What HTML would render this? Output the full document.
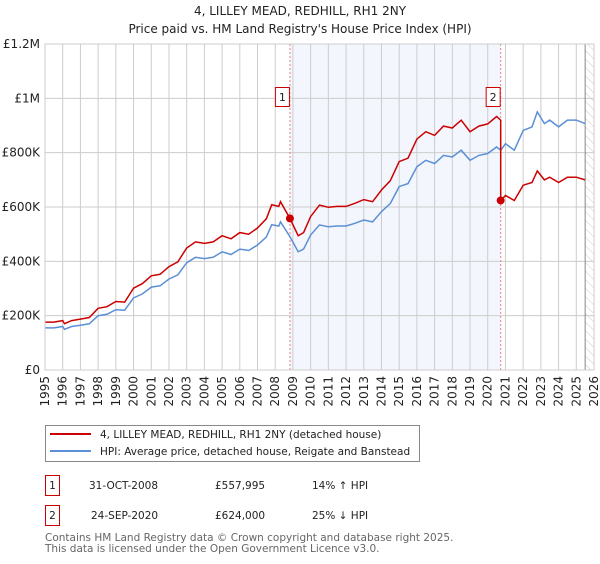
<!DOCTYPE html>
<html><head><meta charset="utf-8"><style>
body{margin:0;background:#fff;font-family:"DejaVu Sans","Liberation Sans",sans-serif;}
svg text{font-family:"DejaVu Sans","Liberation Sans",sans-serif;}
</style></head><body>
<svg id="c" width="600" height="560" xmlns="http://www.w3.org/2000/svg">
<defs><pattern id="hatch" width="6" height="6" patternUnits="userSpaceOnUse" patternTransform="rotate(-45)"><line x1="0" y1="0" x2="0" y2="6" stroke="#ccc" stroke-width="1"/></pattern></defs>
<text x="300" y="15" text-anchor="middle" font-size="12" fill="#222">4, LILLEY MEAD, REDHILL, RH1 2NY</text>
<text x="300" y="33" text-anchor="middle" font-size="12" fill="#222">Price paid vs. HM Land Registry's House Price Index (HPI)</text>
<g id="plot"></g>
<rect x="45.5" y="425.5" width="374" height="36" fill="#fff" stroke="#888"/>
<line x1="50" y1="434" x2="91" y2="434" stroke="#cc0000" stroke-width="2"/>
<text x="100" y="438" font-size="10.5" fill="#222">4, LILLEY MEAD, REDHILL, RH1 2NY (detached house)</text>
<line x1="50" y1="451" x2="91" y2="451" stroke="#5b8fd6" stroke-width="2"/>
<text x="100" y="455" font-size="10.5" fill="#222">HPI: Average price, detached house, Reigate and Banstead</text>
<g>
<rect x="45.5" y="475.5" width="14" height="20" fill="#fff" stroke="#cc0000"/>
<text x="52.5" y="489" font-size="10.5" text-anchor="middle" fill="#222">1</text>
<text x="89" y="489" font-size="10.5" fill="#222">31-OCT-2008</text>
<text x="215" y="489" font-size="10.5" fill="#222">£557,995</text>
<text x="312" y="489" font-size="10.5" fill="#222">14% ↑ HPI</text></g>
<g>
<rect x="45.5" y="505.5" width="14" height="20" fill="#fff" stroke="#cc0000"/>
<text x="52.5" y="519" font-size="10.5" text-anchor="middle" fill="#222">2</text>
<text x="91" y="519" font-size="10.5" fill="#222">24-SEP-2020</text>
<text x="215" y="519" font-size="10.5" fill="#222">£624,000</text>
<text x="312" y="519" font-size="10.5" fill="#222">25% ↓ HPI</text></g>
<text x="45" y="541" font-size="10.5" fill="#666">Contains HM Land Registry data © Crown copyright and database right 2025.</text>
<text x="45" y="552" font-size="10.5" fill="#666">This data is licensed under the Open Government Licence v3.0.</text>
</svg>
<script>
const hpiYears=[1995,1995.5,1996,1996.1,1996.5,1997,1997.5,1998,1998.5,1999,1999.5,2000,2000.5,2001,2001.5,2002,2002.5,2003,2003.5,2004,2004.5,2005,2005.5,2006,2006.5,2007,2007.5,2007.8,2008.2,2008.3,2008.83,2009.3,2009.6,2010,2010.5,2011,2011.5,2012,2012.5,2013,2013.5,2014,2014.5,2015,2015.5,2016,2016.5,2017,2017.5,2018,2018.5,2019,2019.5,2020,2020.5,2020.73,2021,2021.5,2022,2022.5,2022.8,2023.2,2023.5,2024,2024.5,2025,2025.5];
const hpiValues=[155,155,160,150,160,165,170,200,205,222,220,265,280,305,310,335,350,395,415,410,415,435,425,445,440,460,490,535,530,545,491,435,445,497,534,527,530,530,540,552,545,583,613,675,686,748,772,760,790,784,809,772,790,797,821,809,833,809,882,895,950,907,920,895,920,920,907];
const saleYears=[2008.83,2020.73];
const salePrices=[557.995,624.0];
const yTicks=[0,200,400,600,800,1000,1200];
const yTickLabels=["£0","£200K","£400K","£600K","£800K","£1M","£1.2M"];
const xTicks=[1995,1996,1997,1998,1999,2000,2001,2002,2003,2004,2005,2006,2007,2008,2009,2010,2011,2012,2013,2014,2015,2016,2017,2018,2019,2020,2021,2022,2023,2024,2025,2026];
const dataEnd=2025.5;

const NS="http://www.w3.org/2000/svg";
const L=45,R=594,T=44,B=370;
const X=y=>L+(y-1995)/(2026-1995)*(R-L);
const Y=v=>B-v/1200*(B-T);
const g=document.getElementById('plot');
function mk(tag,at){const e=document.createElementNS(NS,tag);for(const k in at)e.setAttribute(k,at[k]);g.appendChild(e);return e;}
let e;
e=mk('rect',{x:X(saleYears[0]),y:T,width:X(saleYears[1])-X(saleYears[0]),height:B-T,fill:'#eef3fc',opacity:0.7});


e=mk('rect',{x:X(dataEnd),y:T,width:R-X(dataEnd),height:B-T,fill:'url(#hatch)'});


yTicks.forEach((v,i)=>{
 e=mk('line',{x1:L,x2:R,y1:Y(v),y2:Y(v),stroke:'#ccc','stroke-width':1});
 
 
 e=mk('text',{x:L-5,y:Y(v)+4,'text-anchor':'end','font-size':12,fill:'#222'});e.textContent=yTickLabels[i];
 
 
});
xTicks.forEach(yr=>{
 e=mk('line',{x1:X(yr),x2:X(yr),y1:T,y2:B,stroke:'#ccc','stroke-width':1});
 
 
 e=mk('text',{x:0,y:0,'text-anchor':'end','font-size':12,fill:'#222',transform:`translate(${X(yr)+4},${B+6}) rotate(-90)`});e.textContent=yr;
 
 
});
e=mk('line',{x1:X(dataEnd),x2:X(dataEnd),y1:T,y2:B,stroke:'#888','stroke-width':1});


saleYears.forEach((s,i)=>{
 e=mk('line',{x1:X(s),x2:X(s),y1:T,y2:B,stroke:'#f08080','stroke-width':1,'stroke-dasharray':'2,2'});
 
 
});
function hpiAt(t){for(let i=1;i<hpiYears.length;i++){if(t<=hpiYears[i]){const f=(t-hpiYears[i-1])/(hpiYears[i]-hpiYears[i-1]);return hpiValues[i-1]+f*(hpiValues[i]-hpiValues[i-1]);}}return hpiValues[hpiValues.length-1];}
let d=hpiYears.map((t,i)=>(i?'L':'M')+X(t).toFixed(1)+','+Y(hpiValues[i]).toFixed(1)).join('');
e=mk('path',{d:d,fill:'none',stroke:'#5b8fd6','stroke-width':1.5});


const r1=salePrices[0]/hpiAt(saleYears[0]), r2=salePrices[1]/hpiAt(saleYears[1]);
let pts=[];
hpiYears.forEach((t,i)=>{if(t<=saleYears[1])pts.push([t,hpiValues[i]*r1]);});
pts.push([saleYears[1],hpiAt(saleYears[1])*r1]);
pts.push([saleYears[1],salePrices[1]]);
hpiYears.forEach((t,i)=>{if(t>saleYears[1])pts.push([t,hpiValues[i]*r2]);});
d=pts.map((p,i)=>(i?'L':'M')+X(p[0]).toFixed(1)+','+Y(p[1]).toFixed(1)).join('');
e=mk('path',{d:d,fill:'none',stroke:'#cc0000','stroke-width':1.5});


saleYears.forEach((s,i)=>{
 e=mk('circle',{cx:X(s),cy:Y(salePrices[i]),r:4,fill:'#cc0000'});
 
 
 e=mk('rect',{x:X(s)-14.5,y:87.5,width:14,height:19,fill:'#fff',stroke:'#cc0000'});
 
 
 e=mk('text',{x:X(s)-7.5,y:101,'text-anchor':'middle','font-size':11,fill:'#222'});e.textContent=String(i+1);
 
 
});
e=mk('rect',{x:L,y:T,width:R-L,height:B-T,fill:'none',stroke:'#ccc'});


</script>
</body></html>
